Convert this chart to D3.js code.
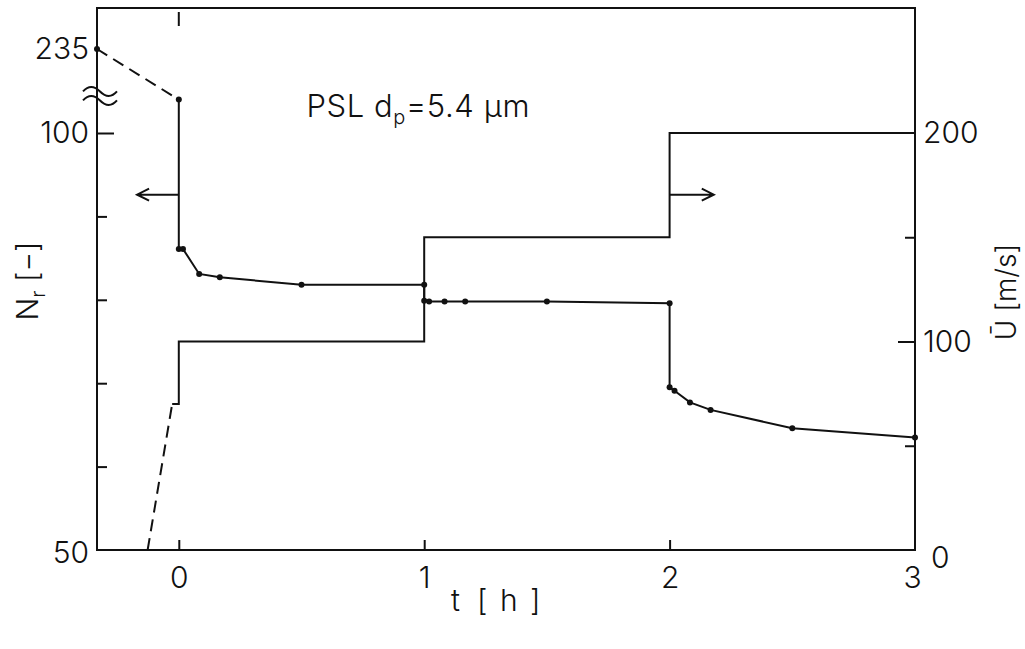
<!DOCTYPE html>
<html>
<head>
<meta charset="utf-8">
<script src="https://cdn.jsdelivr.net/npm/d3@7"></script>
<style>
  body { margin: 0; background: #fff; }
  svg { display: block; }
  .lbl { font-family: Inter, "DejaVu Sans", sans-serif; font-weight: 300; fill: #111; }
  .frame { fill: none; stroke: #111; stroke-width: 2; }
  .line { fill: none; stroke: #111; stroke-width: 2; }
  .dash { fill: none; stroke: #111; stroke-width: 2; stroke-dasharray: 12,7; }
  .dot { fill: #111; }
</style>
</head>
<body>
<div id="chart"></div>
<script>
(function () {
  // time axis [h]
  const tDomain = [-1 / 3, 3];
  const tTicks = [0, 1, 2, 3];

  // Nr (left axis, broken above 100)
  const nrTicks = [50, 60, 70, 80, 90, 100, 235];
  const nrLabels = [50, 100, 235];
  const nrLeadT = [-1 / 3, 0];
  const nrLeadV = [235, 104];
  const nrT = [0, 0, 0.017, 0.083, 0.167, 0.5, 1, 1, 1.02, 1.083, 1.167, 1.5, 2, 2, 2.02, 2.083, 2.167, 2.5, 3];
  const nrV = [104, 86.1, 86.1, 83.1, 82.7, 81.8, 81.8, 79.9, 79.8, 79.8, 79.8, 79.8, 79.6, 69.5, 69.1, 67.7, 66.8, 64.6, 63.5];

  // mean velocity U (right axis)
  const uTicks = [0, 50, 100, 150, 200];
  const uLabels = [0, 100, 200];
  const uLeadT = [-0.127, -0.027];
  const uLeadV = [0, 70];
  const uT = [-0.027, 0, 0, 1, 1, 2, 2, 3];
  const uV = [70, 70, 100, 100, 150, 150, 200, 200];

  const margin = {top: 8, right: 110, bottom: 99, left: 97};
  const width = 1025 - margin.left - margin.right;
  const height = 649 - margin.top - margin.bottom;

  const svg = d3.select("#chart").append("svg")
    .attr("width", 1025)
    .attr("height", 649);

  const g = svg.append("g")
    .attr("transform", "translate(" + margin.left + "," + margin.top + ")");

  const x = d3.scaleLinear().domain(tDomain).range([0, width]);
  // 50..104 linear, then squeezed up to 235 above the break
  const yN = d3.scaleLinear().domain([50, 100, 104, 235]).range([height, 125, 91.6, 41]);
  const yU = d3.scaleLinear().domain([0, 200]).range([height, 125]);

  g.append("rect").attr("class", "frame")
    .attr("width", width).attr("height", height);

  // axes
  const ax = g.append("g")
    .attr("transform", "translate(0," + height + ")")
    .call(d3.axisBottom(x).tickValues(tTicks).tickFormat(d3.format("d"))
      .tickSizeInner(-10).tickSizeOuter(0).tickPadding(17));
  ax.selectAll(".tick").filter(d => d === 3).select("line").remove();
  ax.selectAll(".tick").filter(d => d === 3).select("text").attr("dx", -3);

  g.append("line").attr("class", "line")
    .attr("x1", x(0)).attr("x2", x(0)).attr("y1", 4).attr("y2", 18);

  const ayl = g.append("g")
    .call(d3.axisLeft(yN).tickValues(nrTicks).tickSizeInner(-10).tickSizeOuter(0).tickPadding(8)
      .tickFormat(d => nrLabels.includes(d) ? d : ""));
  ayl.selectAll(".tick").filter(d => d === 100).select("line").attr("x2", 17);
  ayl.selectAll(".tick").filter(d => d === 50 || d === 235).select("line").remove();
  ayl.selectAll(".tick").filter(d => d === 50).select("text").attr("dy", "0.43em");

  const ayr = g.append("g")
    .attr("transform", "translate(" + width + ",0)")
    .call(d3.axisRight(yU).tickValues(uTicks).tickSizeInner(-10).tickSizeOuter(0).tickPadding(8)
      .tickFormat(d => uLabels.includes(d) ? d : ""));
  ayr.selectAll(".tick").filter(d => d === 100).select("line").attr("x2", -17);
  ayr.selectAll(".tick").filter(d => d === 0 || d === 200).select("line").remove();
  ayr.selectAll(".tick").filter(d => d === 0).select("text").attr("dx", 8).attr("dy", "0.57em");

  g.selectAll(".domain").remove();
  g.selectAll(".tick line").attr("stroke", "#111").attr("stroke-width", 2);
  g.selectAll(".tick text").attr("class", "lbl").attr("font-size", 30).attr("font-family", null);

  // axis break mark
  const by = yN(120);
  [-5, 4].forEach(function (o) {
    g.append("path").attr("class", "line")
      .attr("d", "M-14," + (by + o + 3) + " q8,-9 17,0 t17,0");
  });

  // data lines
  const line = d3.line().x(d => x(d[0])).y(d => d[1]);
  const nrPts = nrT.map((t, i) => [t, yN(nrV[i])]);
  const uPts = uT.map((t, i) => [t, yU(uV[i])]);

  g.append("path").attr("class", "dash")
    .attr("d", line(nrLeadT.map((t, i) => [t, yN(nrLeadV[i])])));
  g.append("path").attr("class", "line").attr("d", line(nrPts));
  g.append("path").attr("class", "dash")
    .attr("d", line(uLeadT.map((t, i) => [t, yU(uLeadV[i])])));
  g.append("path").attr("class", "line").attr("d", line(uPts));

  g.selectAll(".dot").data(nrPts.concat([[nrLeadT[0], yN(nrLeadV[0])]]))
    .enter().append("circle").attr("class", "dot")
    .attr("cx", d => x(d[0])).attr("cy", d => d[1]).attr("r", 3);

  // direction arrows
  function arrow(t0, t1, v) {
    const ya = yN(v), x0 = x(t0), x1 = x(t1), s = x1 > x0 ? -1 : 1;
    g.append("path").attr("class", "line").attr("stroke-width", 1.6)
      .attr("d", "M" + x0 + "," + ya + "H" + x1 +
        "M" + (x1 + s * 12) + "," + (ya - 6) + "L" + x1 + "," + ya + "L" + (x1 + s * 12) + "," + (ya + 6));
  }
  arrow(0, -0.17, 92.6);
  arrow(2, 2.18, 92.6);

  // annotation
  const note = g.append("text").attr("class", "lbl").attr("font-size", 31)
    .attr("letter-spacing", 0.6)
    .attr("x", x(0.52)).attr("y", yN(101.9));
  note.append("tspan").text("PSL  d");
  note.append("tspan").attr("font-size", 20).attr("dy", 7).text("p");
  note.append("tspan").attr("dy", -7).text("=5.4 μm");

  // axis titles
  const tt = svg.append("text").attr("class", "lbl").attr("font-size", 30).attr("y", 611);
  tt.append("tspan").attr("x", 451).text("t");
  tt.append("tspan").attr("x", 477).attr("letter-spacing", 2).text("[ h ]");

  const nl = svg.append("text").attr("class", "lbl").attr("font-size", 30)
    .attr("text-anchor", "middle")
    .attr("transform", "translate(38,281) rotate(-90)");
  nl.append("tspan").text("N");
  nl.append("tspan").attr("font-size", 20).attr("dy", 7).text("r");
  nl.append("tspan").attr("dy", -7).text(" [−]");

  svg.append("text").attr("class", "lbl").attr("font-size", 28)
    .attr("text-anchor", "middle")
    .attr("transform", "translate(1016,292) rotate(-90)")
    .text("Ū [m/s]");
})();
</script>
</body>
</html>
